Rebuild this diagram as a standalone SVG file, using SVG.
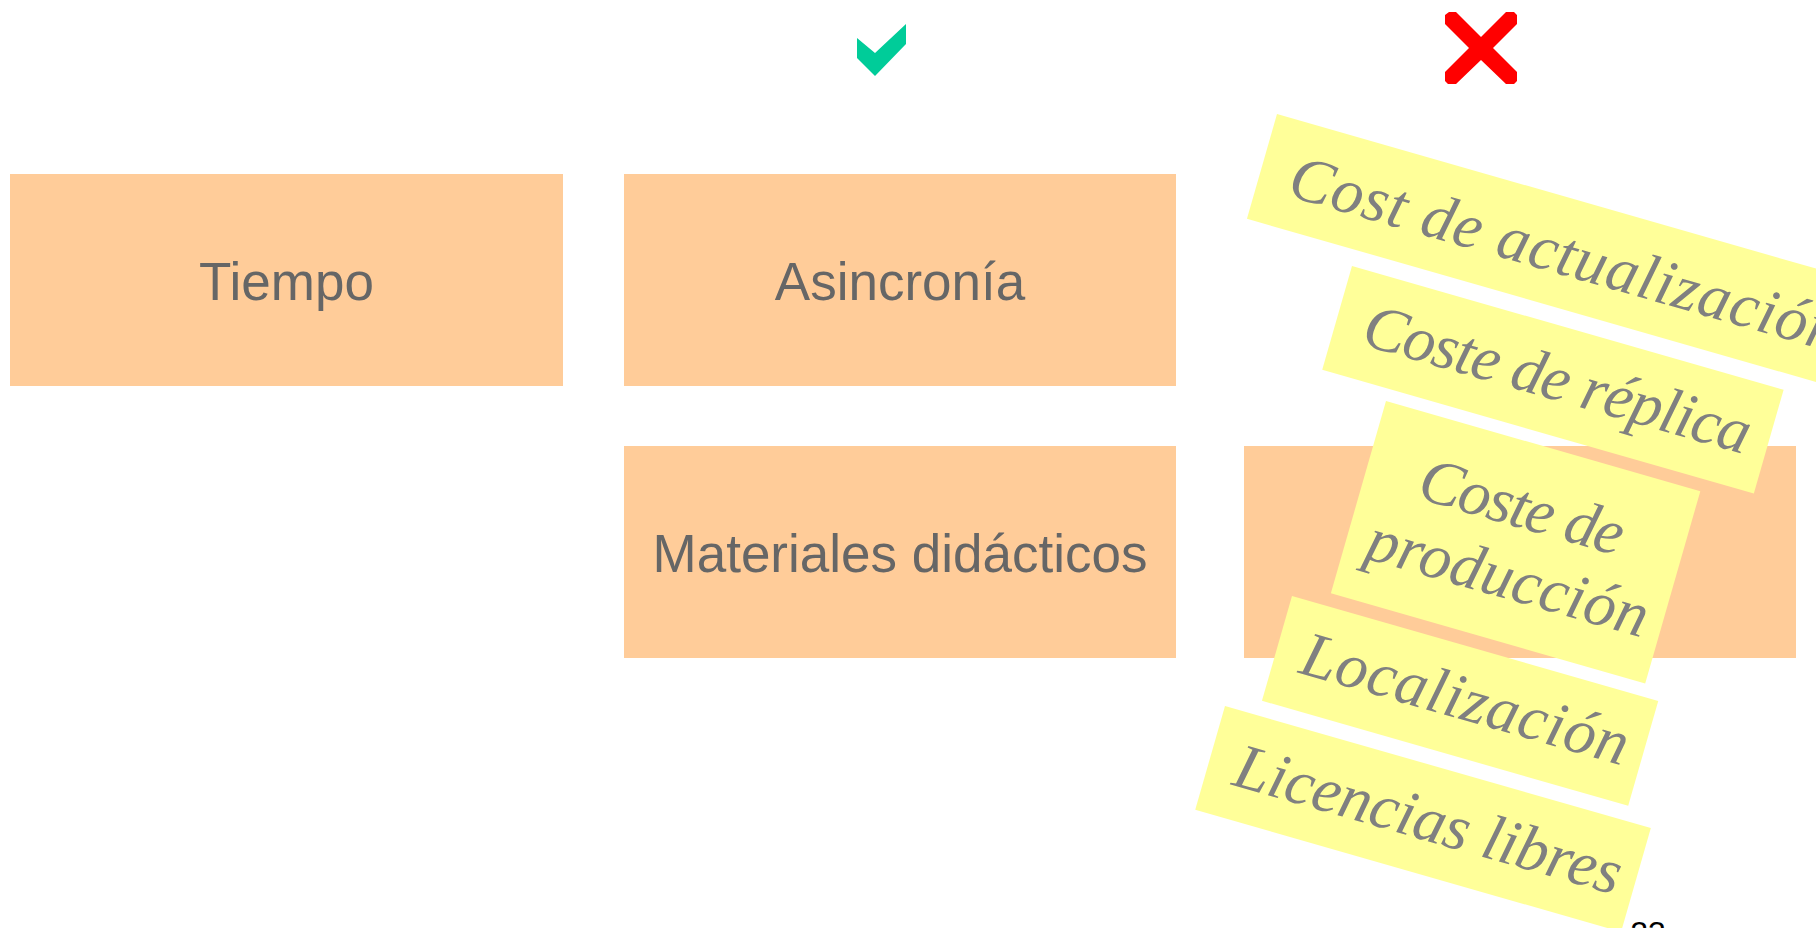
<svg xmlns="http://www.w3.org/2000/svg" width="1816" height="928" viewBox="0 0 1816 928">
<style>
.box{fill:#FFCC99}
.lbl{font-family:"Liberation Sans",Arial,sans-serif;font-size:53px;fill:#666666;text-anchor:middle}
.note{fill:#FFFF99}
.nt{font-family:"Liberation Serif","Times New Roman",serif;font-style:italic;font-size:64px;fill:#808080;text-anchor:middle}
</style>
<rect width="1816" height="928" fill="#FFFFFF"/>
<g id="check"><polygon points="857,38 875,53 906,24 906,44 875,76 857,58" fill="#00CC99"/></g>
<g id="cross"><polygon points="1449,12 1456,12 1481,37 1506,12 1514,12 1517,15 1517,24 1493,48 1517,72 1517,81 1514,84 1506,84 1481,60 1456,84 1448,84 1445,81 1445,72 1469,48 1445,24 1445,15" fill="#FF0000"/></g>
<g id="tiempo"><rect class="box" x="10" y="174" width="553" height="212"/><text class="lbl" x="286.5" y="300">Tiempo</text></g>
<g id="asincronia"><rect class="box" x="624" y="174" width="552" height="212"/><text class="lbl" x="900" y="300">Asincronía</text></g>
<g id="materiales"><rect class="box" x="624" y="446" width="552" height="212"/><text class="lbl" x="900" y="572">Materiales didácticos</text></g>
<g id="costes-box"><rect class="box" x="1244" y="446" width="552" height="212"/></g>
<g id="connectors"></g>
<g id="note-actualizacion" transform="translate(1277,114) rotate(16)"><rect class="note" width="632" height="109"/><text class="nt" x="316" y="76" font-size="66" textLength="570">Cost de actualización</text></g>
<g id="note-replica" transform="translate(1352,266) rotate(16)"><rect class="note" width="449" height="108"/><text class="nt" x="229" y="73" textLength="400">Coste de réplica</text></g>
<g id="note-produccion" transform="translate(1386,401) rotate(16)"><rect class="note" width="327" height="200"/><text class="nt" x="160" y="85" textLength="210">Coste de</text><text class="nt" x="166" y="157" textLength="290">producción</text></g>
<g id="note-localizacion" transform="translate(1292,596) rotate(16)"><rect class="note" width="381" height="109"/><text class="nt" x="195" y="72" textLength="338">Localización</text></g>
<g id="note-licencias" transform="translate(1225,706) rotate(16)"><rect class="note" width="443" height="108"/><text class="nt" x="227" y="74" textLength="400">Licencias libres</text></g>
<g id="page-number"><text x="1648" y="944" font-family="Liberation Sans,Arial,sans-serif" font-size="32" fill="#000000" text-anchor="middle">23</text></g>
</svg>
